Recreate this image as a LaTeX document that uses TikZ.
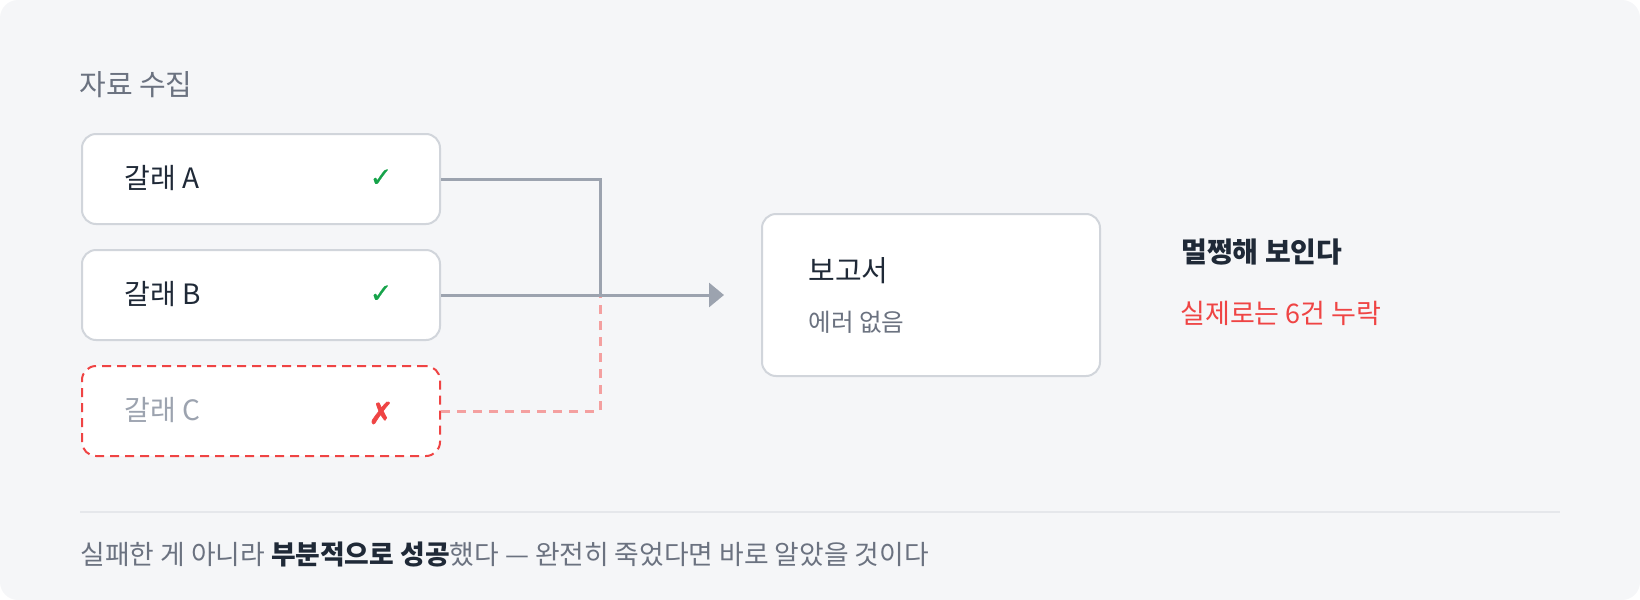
\documentclass[tikz,border=0pt]{standalone}
\usepackage{fontspec}
\setmainfont{Noto Sans CJK KR}
\newfontfamily\symfont{DejaVu Sans}[FakeBold=0.6]
\newfontfamily\symbold{DejaVu Sans}[FakeBold=2]
\usetikzlibrary{arrows.meta}
\definecolor{bgc}{HTML}{F5F6F8}
\definecolor{boxline}{HTML}{D1D5DB}
\definecolor{darktxt}{HTML}{1F2937}
\definecolor{graytxt}{HTML}{6B7280}
\definecolor{fadetxt}{HTML}{9CA3AF}
\definecolor{okgreen}{HTML}{16A34A}
\definecolor{badred}{HTML}{EF4444}
\definecolor{dashred}{HTML}{F4A0A0}
\definecolor{connc}{HTML}{9CA3AF}
\definecolor{sepc}{HTML}{E5E7EB}
\begin{document}
\begin{tikzpicture}[x=0.5pt,y=-0.5pt,
  box/.style={draw=boxline, line width=1pt, fill=white, rounded corners=7pt,
    minimum width=179pt, minimum height=45pt, inner sep=0pt, anchor=north west},
  failbox/.style={box, draw=badred, dash pattern=on 4.5pt off 3pt},
  lbl/.style={anchor=west, inner sep=0pt, font=\fontsize{14pt}{17pt}\selectfont, text=darktxt},
  chk/.style={inner sep=0pt, font=\symfont\fontsize{13.5pt}{16pt}\selectfont, text=okgreen},
  conn/.style={draw=connc, line width=1.5pt},
  dashconn/.style={draw=dashred, line width=1.5pt, dash pattern=on 4.5pt off 3.5pt},
  note/.style={anchor=west, inner sep=0pt}]
\useasboundingbox (0,0) rectangle (1640,600);
\fill[bgc, rounded corners=9pt] (0,0) rectangle (1640,600);

% section title
\node[note, font=\fontsize{14.5pt}{17pt}\selectfont, text=graytxt] (title) at (79,85) {자료 수집};

% branch boxes
\node[box] (a) at (81,133) {};
\node[box] (b) at (81,249) {};
\node[failbox] (c) at (81,365) {};

\node[lbl] (ta) at (124,178) {갈래 A};
\node[lbl] (tb) at (124,294) {갈래 B};
\node[lbl, text=fadetxt] (tc) at (124,410) {갈래 C};

\node[chk] (ca) at (381,178) {✓};
\node[chk] (cb) at (381,294) {✓};
\node[chk, text=badred, font=\symbold\fontsize{15pt}{17pt}\selectfont] (cc) at (381,413) {✗};

% report box
\node[box, minimum width=169pt, minimum height=81pt] (r) at (761,213) {};
\node[note, font=\fontsize{14.5pt}{17pt}\selectfont, text=darktxt] (rt) at (808,271) {보고서};
\node[note, font=\fontsize{12.3pt}{15pt}\selectfont, text=graytxt] (rs) at (808,322) {에러 없음};

% connectors
\coordinate (j) at (600,294);
\draw[dashconn] (c.east) -| (j);
\draw[conn] (a.east) -| (j);
\draw[conn, -{Triangle[length=7.5pt,width=12pt]}, shorten >=18.5pt] (b.east) -- (r.west);

% side notes
\node[note, font=\bfseries\fontsize{14pt}{17pt}\selectfont, text=darktxt] (n1) at (1181,252) {멀쩡해 보인다};
\node[note, font=\fontsize{13.5pt}{16pt}\selectfont, text=badred] (n2) at (1180,313) {실제로는 6건 누락};

% separator and footer
\coordinate (s1) at (80,512);
\coordinate (s2) at (1560,512);
\draw[draw=sepc, line width=1pt] (s1) -- (s2);
\node[note, font=\fontsize{13.4pt}{16pt}\selectfont, text=graytxt] (foot) at (80,554)
  {실패한 게 아니라 {\bfseries\color{darktxt}부분적으로 성공}했다 — 완전히 죽었다면 바로 알았을 것이다};
\end{tikzpicture}
\end{document}
